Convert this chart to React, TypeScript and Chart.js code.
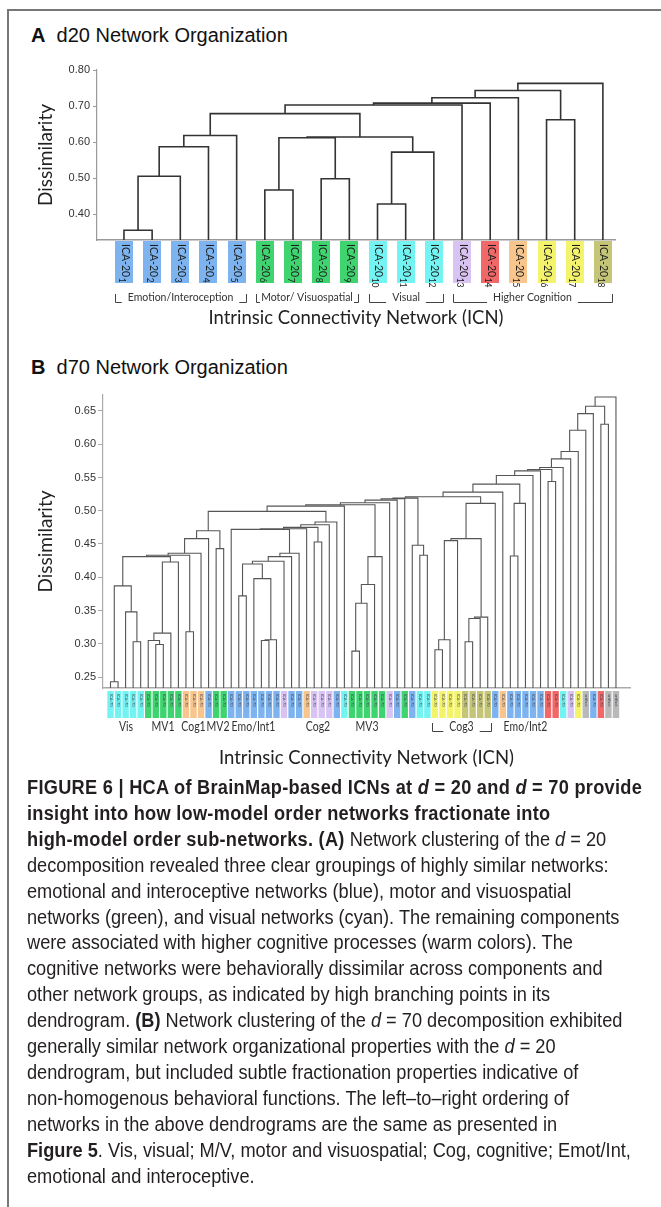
import React, { useEffect, useRef } from "react";
import { Chart, registerables } from "chart.js";

Chart.register(...registerables);

const PALETTE: Record<string, string> = {
  b: "#7db4f0",
  g: "#3fd46f",
  c: "#74f3f3",
  l: "#d9c3f3",
  r: "#f06868",
  o: "#f8c68c",
  y: "#f3f36c",
  v: "#c5c577",
  x: "#b9b9b9",
};

// ---------- Panel A : d = 20 ----------
const A_LEAF_PREFIX = "ICA-20";
const A_LEAF_NUMBERS = ["1", "2", "3", "4", "5", "6", "7", "8", "9", "10", "11", "12", "13", "14", "15", "16", "17", "18"];
const A_LEAF_COLORS = ["b", "b", "b", "b", "b", "g", "g", "g", "g", "c", "c", "c", "l", "r", "o", "y", "y", "v"];
// [left child, right child, height]; ids >= 18 refer to earlier merges
const A_MERGES: [number, number, number][] = [
  [0, 1, 0.355],
  [18, 2, 0.505],
  [19, 3, 0.587],
  [20, 4, 0.618],
  [5, 6, 0.467],
  [7, 8, 0.498],
  [22, 23, 0.612],
  [9, 10, 0.428],
  [25, 11, 0.572],
  [24, 26, 0.614],
  [21, 27, 0.679],
  [28, 12, 0.703],
  [29, 13, 0.708],
  [30, 14, 0.723],
  [15, 16, 0.662],
  [31, 32, 0.743],
  [33, 17, 0.763],
];
const A_Y_TICKS = [0.4, 0.5, 0.6, 0.7, 0.8];
const A_GROUP_LABELS = ["Emotion/Interoception", "Motor/ Visuospatial", "Visual", "Higher Cognition"];
const A_GROUP_FROM = [0, 5, 9, 12];
const A_GROUP_TO = [4, 8, 11, 17];

// ---------- Panel B : d = 70 ----------
const B_LEAF_COLORS = (
  "c c c c c g g g g g o o o b g g b b b b b b b l b b o l l l b c g g g g g l b g b c c y y y y v v v v b o b b b b b r r c l y x b r x x"
).split(" ");
const B_MERGES: [number, number, number][] = [
  [0, 1, 0.243], // 68
  [3, 4, 0.303], // 69
  [2, 69, 0.348], // 70
  [68, 70, 0.387], // 71
  [6, 7, 0.299], // 72
  [5, 72, 0.305], // 73
  [73, 8, 0.316], // 74
  [74, 9, 0.423], // 75
  [71, 75, 0.431], // 76
  [10, 11, 0.318], // 77
  [76, 77, 0.433], // 78
  [78, 12, 0.436], // 79
  [79, 13, 0.458], // 80
  [14, 15, 0.443], // 81
  [80, 81, 0.47], // 82
  [17, 18, 0.372], // 83
  [20, 21, 0.305], // 84
  [84, 22, 0.306], // 85
  [19, 85, 0.398], // 86
  [83, 86, 0.42], // 87
  [87, 23, 0.424], // 88
  [88, 24, 0.431], // 89
  [89, 25, 0.436], // 90
  [16, 90, 0.472], // 91
  [91, 26, 0.473], // 92
  [27, 28, 0.453], // 93
  [92, 93, 0.475], // 94
  [94, 29, 0.479], // 95
  [95, 30, 0.483], // 96
  [82, 96, 0.499], // 97
  [97, 31, 0.507], // 98
  [32, 33, 0.289], // 99
  [99, 34, 0.361], // 100
  [100, 35, 0.389], // 101
  [101, 36, 0.431], // 102
  [98, 102, 0.509], // 103
  [103, 37, 0.512], // 104
  [104, 38, 0.516], // 105
  [105, 39, 0.518], // 106
  [41, 42, 0.433], // 107
  [40, 107, 0.448], // 108
  [106, 108, 0.519], // 109
  [43, 44, 0.291], // 110
  [110, 45, 0.306], // 111
  [111, 46, 0.455], // 112
  [47, 48, 0.303], // 113
  [113, 49, 0.338], // 114
  [114, 50, 0.34], // 115
  [112, 115, 0.458], // 116
  [116, 51, 0.511], // 117
  [109, 117, 0.521], // 118
  [118, 52, 0.528], // 119
  [53, 54, 0.432], // 120
  [120, 55, 0.511], // 121
  [119, 121, 0.54], // 122
  [122, 56, 0.553], // 123
  [123, 57, 0.56], // 124
  [58, 59, 0.544], // 125
  [124, 125, 0.562], // 126
  [126, 60, 0.565], // 127
  [127, 61, 0.578], // 128
  [128, 62, 0.589], // 129
  [129, 63, 0.621], // 130
  [130, 64, 0.646], // 131
  [65, 66, 0.63], // 132
  [131, 132, 0.657], // 133
  [133, 67, 0.671], // 134
];
const B_Y_TICKS = [0.25, 0.3, 0.35, 0.4, 0.45, 0.5, 0.55, 0.6, 0.65];
const B_GROUP_LABELS = ["Vis", "MV1", "Cog1", "MV2", "Emo/Int1", "Cog2", "MV3", "Cog3", "Emo/Int2"];
const B_GROUP_FROM = [0, 5, 10, 13.5, 16, 26, 32, 43, 53];
const B_GROUP_TO = [4, 9, 12, 15, 22, 29, 36, 50, 57];
const B_GROUP_BRACKET = [false, false, false, false, false, false, false, true, false];

const X_TITLE = "Intrinsic Connectivity Network (ICN)";
const Y_TITLE = "Dissimilarity";

function dendroPoints(n: number, merges: [number, number, number][], base: number) {
  const pos: number[] = [];
  const ht: number[] = [];
  for (let i = 0; i < n; i++) {
    pos.push(i);
    ht.push(base);
  }
  const pts: { x: number; y: number }[] = [];
  merges.forEach(([a, b, h]) => {
    pts.push({ x: pos[a], y: ht[a] }, { x: pos[a], y: h }, { x: pos[b], y: h }, { x: pos[b], y: ht[b] }, { x: NaN, y: NaN });
    pos.push((pos[a] + pos[b]) / 2);
    ht.push(h);
  });
  return pts;
}

type Spec = {
  n: number;
  merges: [number, number, number][];
  ticks: number[];
  yMin: number;
  yMax: number;
  xMin: number;
  xMax: number;
  width: number;
  height: number;
  padTop: number;
  padRight: number;
  yAxisWidth: number;
  xAxisHeight: number;
  yTitleOffset: number;
  xTitleOffset: number;
  tickLength: number;
  tickPad: number;
  lineColor: string;
  lineWidth: number;
  axisColor: string;
  extras: (chart: any) => void;
};

function drawBracketGroup(
  ctx: CanvasRenderingContext2D,
  x0: number,
  x1: number,
  yText: number,
  label: string,
  bracket: boolean,
  squeeze: number
) {
  const mid = (x0 + x1) / 2;
  const tw = ctx.measureText(label).width * squeeze;
  ctx.save();
  ctx.translate(mid, yText);
  ctx.scale(squeeze, 1);
  ctx.fillText(label, 0, 0);
  ctx.restore();
  if (!bracket) return;
  const yb = yText + 4;
  const l1 = Math.max(x0 + 4, mid - tw / 2 - 6);
  const r1 = Math.min(x1 - 4, mid + tw / 2 + 6);
  ctx.beginPath();
  ctx.moveTo(x0 + 0.5, yb - 8);
  ctx.lineTo(x0 + 0.5, yb + 0.5);
  ctx.lineTo(l1, yb + 0.5);
  ctx.moveTo(r1, yb + 0.5);
  ctx.lineTo(x1 + 0.5, yb + 0.5);
  ctx.lineTo(x1 + 0.5, yb - 8);
  ctx.stroke();
}

function extrasA(chart: any) {
  const { ctx, chartArea, scales } = chart;
  const x = scales.x;
  ctx.save();
  A_LEAF_COLORS.forEach((c, i) => {
    const cx = x.getPixelForValue(i);
    ctx.fillStyle = PALETTE[c];
    ctx.fillRect(Math.round(cx - 9), chartArea.bottom + 1, 18, 42);
    ctx.save();
    ctx.translate(cx + 1, chartArea.bottom + 4);
    ctx.rotate(Math.PI / 2);
    ctx.fillStyle = "#1c1c1c";
    ctx.textAlign = "left";
    ctx.textBaseline = "middle";
    ctx.font = "10.5px Lato";
    ctx.fillText(A_LEAF_PREFIX, 0, 0);
    const w = ctx.measureText(A_LEAF_PREFIX).width;
    ctx.font = "8.5px Lato";
    ctx.fillText(A_LEAF_NUMBERS[i], w + 0.5, 3.5);
    ctx.restore();
  });
  ctx.font = "10.5px Lato";
  ctx.fillStyle = "#333";
  ctx.strokeStyle = "#444";
  ctx.lineWidth = 1;
  ctx.textAlign = "center";
  ctx.textBaseline = "middle";
  A_GROUP_LABELS.forEach((label, k) => {
    const x0 = Math.round(x.getPixelForValue(A_GROUP_FROM[k]) - 9);
    const x1 = Math.round(x.getPixelForValue(A_GROUP_TO[k]) + 9);
    drawBracketGroup(ctx, x0, x1, chartArea.bottom + 58, label, true, 1);
  });
  ctx.restore();
}

function extrasB(chart: any) {
  const { ctx, chartArea, scales } = chart;
  const x = scales.x;
  ctx.save();
  B_LEAF_COLORS.forEach((c, i) => {
    const cx = x.getPixelForValue(i);
    ctx.fillStyle = PALETTE[c];
    ctx.fillRect(cx - 3.2, chartArea.bottom + 3, 6.4, 27);
    ctx.save();
    ctx.translate(cx + 0.5, chartArea.bottom + 6);
    ctx.rotate(Math.PI / 2);
    ctx.fillStyle = "#3a3a4a";
    ctx.textAlign = "left";
    ctx.textBaseline = "middle";
    ctx.font = "4px Lato";
    ctx.fillText(c === "x" ? "artifact" : "ICA-70", 0, 0);
    ctx.restore();
  });
  ctx.font = "12.5px Lato";
  ctx.fillStyle = "#333";
  ctx.strokeStyle = "#444";
  ctx.lineWidth = 1;
  ctx.textAlign = "center";
  ctx.textBaseline = "middle";
  B_GROUP_LABELS.forEach((label, k) => {
    const x0 = Math.round(x.getPixelForValue(B_GROUP_FROM[k]) - 3);
    const x1 = Math.round(x.getPixelForValue(B_GROUP_TO[k]) + 3);
    drawBracketGroup(ctx, x0, x1, chartArea.bottom + 39, label, B_GROUP_BRACKET[k], 0.84);
  });
  ctx.restore();
}

function Dendrogram({ spec, top }: { spec: Spec; top: number }) {
  const ref = useRef<HTMLCanvasElement | null>(null);
  useEffect(() => {
    if (!ref.current) return;
    const s = spec;
    const chart = new Chart(ref.current, {
      type: "line",
      data: {
        datasets: [
          {
            data: dendroPoints(s.n, s.merges, s.yMin),
            borderColor: s.lineColor,
            borderWidth: s.lineWidth,
            pointRadius: 0,
            tension: 0,
            spanGaps: false,
            fill: false,
          },
        ],
      },
      options: {
        responsive: false,
        animation: false,
        events: [],
        layout: { padding: { top: s.padTop, right: s.padRight, left: 0, bottom: 0 } },
        plugins: { legend: { display: false }, tooltip: { enabled: false } },
        scales: {
          x: {
            type: "linear",
            min: s.xMin,
            max: s.xMax,
            ticks: { display: false },
            grid: { display: false },
            border: { display: true, color: s.axisColor, width: 1.5 },
            title: {
              display: true,
              text: X_TITLE,
              color: "#222",
              font: { family: "Lato", size: 18.5 },
              padding: { top: 0, bottom: s.xTitleOffset },
            },
            afterFit: (sc: any) => {
              sc.height = s.xAxisHeight;
            },
          },
          y: {
            type: "linear",
            min: s.yMin,
            max: s.yMax,
            afterBuildTicks: (sc: any) => {
              sc.ticks = s.ticks.map((v) => ({ value: v }));
            },
            ticks: {
              callback: (v: any) => Number(v).toFixed(2),
              color: "#333",
              font: { family: "Liberation Sans", size: 11 },
              padding: s.tickPad,
            },
            grid: { drawOnChartArea: false, drawTicks: true, tickLength: s.tickLength, color: s.axisColor },
            border: { display: true, color: s.axisColor, width: 1.2 },
            title: {
              display: true,
              text: Y_TITLE,
              color: "#222",
              font: { family: "Lato", size: 19 },
              padding: { top: s.yTitleOffset, bottom: 0 },
            },
            afterFit: (sc: any) => {
              sc.width = s.yAxisWidth;
            },
          },
        },
      },
      plugins: [{ id: "leafExtras", afterDraw: (c: any) => s.extras(c) }],
    } as any);
    return () => chart.destroy();
  }, [spec]);
  return (
    <canvas
      ref={ref}
      width={spec.width}
      height={spec.height}
      style={{ position: "absolute", left: 0, top, width: spec.width, height: spec.height }}
    />
  );
}

const SPEC_A: Spec = {
  n: A_LEAF_COLORS.length,
  merges: A_MERGES,
  ticks: A_Y_TICKS,
  yMin: 0.328,
  yMax: 0.8,
  xMin: -0.957,
  xMax: 17.43,
  width: 661,
  height: 290,
  padTop: 20,
  padRight: 46,
  yAxisWidth: 97,
  xAxisHeight: 100,
  yTitleOffset: 34,
  xTitleOffset: 11,
  tickLength: 4,
  tickPad: 3,
  lineColor: "#333",
  lineWidth: 1.6,
  axisColor: "#999",
  extras: extrasA,
};

const SPEC_B: Spec = {
  n: B_LEAF_COLORS.length,
  merges: B_MERGES,
  ticks: B_Y_TICKS,
  yMin: 0.2335,
  yMax: 0.674,
  xMin: -0.995,
  xMax: 68.86,
  width: 661,
  height: 400,
  padTop: 15,
  padRight: 31,
  yAxisWidth: 103,
  xAxisHeight: 92,
  yTitleOffset: 34,
  xTitleOffset: 11,
  tickLength: 5,
  tickPad: 2,
  lineColor: "#555",
  lineWidth: 1.1,
  axisColor: "#aaa",
  extras: extrasB,
};

const titleStyle: React.CSSProperties = {
  position: "absolute",
  left: 31,
  fontFamily: "Liberation Sans, Arial, sans-serif",
  fontSize: 20,
  lineHeight: "24px",
  color: "#111",
  whiteSpace: "nowrap",
};

const boldSpacing: React.CSSProperties = { letterSpacing: "0.3px" };

export default function App() {
  return (
    <div
      style={{
        position: "absolute",
        left: 0,
        top: 0,
        width: 661,
        height: 1207,
        overflow: "hidden",
        background: "#fff",
      }}
    >
      <div
        style={{
          position: "absolute",
          left: 7,
          top: 9,
          width: 660,
          height: 1210,
          borderTop: "2px solid #777",
          borderLeft: "2px solid #777",
        }}
      />
      <div style={{ ...titleStyle, top: 23 }}>
        <b>A</b>&nbsp; d20 Network Organization
      </div>
      <Dendrogram spec={SPEC_A} top={50} />
      <div style={{ ...titleStyle, top: 355 }}>
        <b>B</b>&nbsp; d70 Network Organization
      </div>
      <Dendrogram spec={SPEC_B} top={380} />
      <div
        style={{
          position: "absolute",
          left: 27,
          top: 775,
          fontFamily: "Liberation Sans, Arial, sans-serif",
          fontSize: 20,
          lineHeight: "25.9px",
          color: "#231f20",
          whiteSpace: "nowrap",
          transform: "scaleX(0.91)",
          transformOrigin: "0 0",
        }}
      >
        <b style={boldSpacing}>
          FIGURE 6 | HCA of BrainMap-based ICNs at <i>d</i> = 20 and <i>d</i> = 70 provide
        </b>
        <br />
        <b style={boldSpacing}>insight into how low-model order networks fractionate into</b>
        <br />
        <b style={boldSpacing}>high-model order sub-networks. (A)</b> Network clustering of the <i>d</i> = 20
        <br />
        decomposition revealed three clear groupings of highly similar networks:
        <br />
        emotional and interoceptive networks (blue), motor and visuospatial
        <br />
        networks (green), and visual networks (cyan). The remaining components
        <br />
        were associated with higher cognitive processes (warm colors). The
        <br />
        cognitive networks were behaviorally dissimilar across components and
        <br />
        other network groups, as indicated by high branching points in its
        <br />
        dendrogram. <b>(B)</b> Network clustering of the <i>d</i> = 70 decomposition exhibited
        <br />
        generally similar network organizational properties with the <i>d</i> = 20
        <br />
        dendrogram, but included subtle fractionation properties indicative of
        <br />
        non-homogenous behavioral functions. The left–to–right ordering of
        <br />
        networks in the above dendrograms are the same as presented in
        <br />
        <b>Figure 5</b>. Vis, visual; M/V, motor and visuospatial; Cog, cognitive; Emot/Int,
        <br />
        emotional and interoceptive.
      </div>
    </div>
  );
}
